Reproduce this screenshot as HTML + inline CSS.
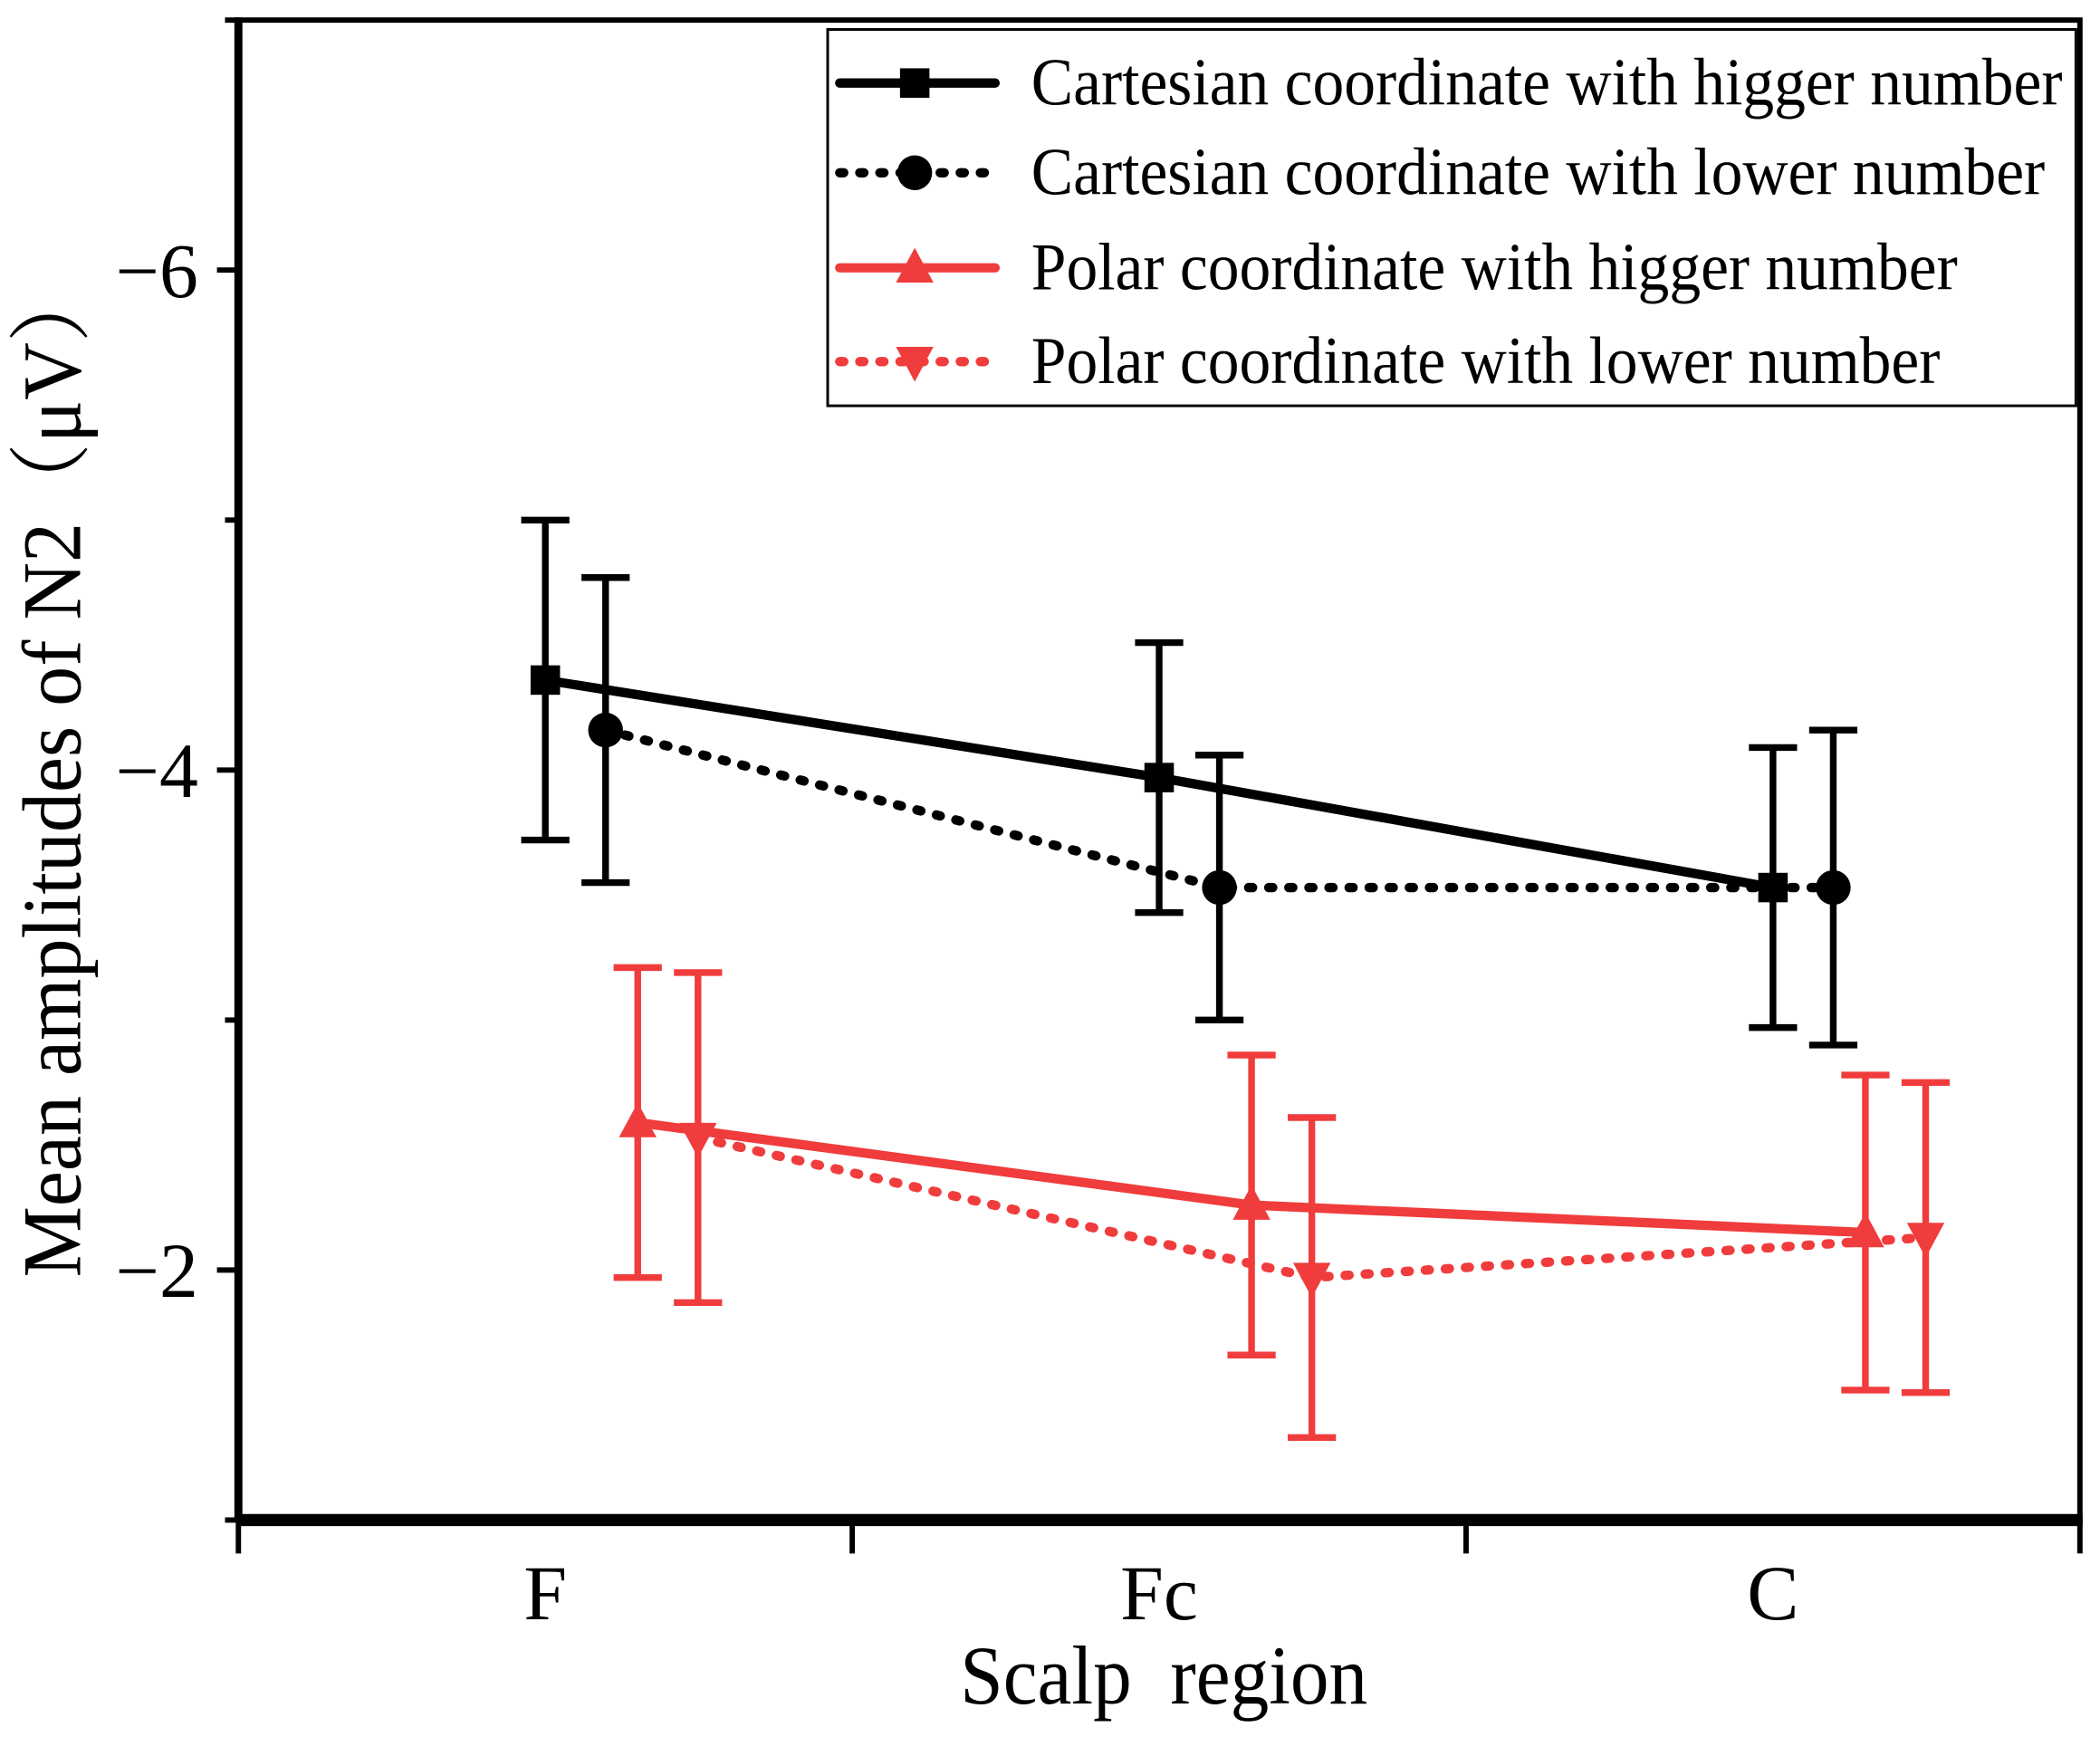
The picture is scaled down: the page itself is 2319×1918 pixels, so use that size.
<!DOCTYPE html>
<html><head><meta charset="utf-8"><style>
html,body{margin:0;padding:0;background:#fff;}
svg{display:block;}
text{font-family:"Liberation Serif","Noto Serif CJK SC",serif;fill:#000;}
</style></head><body>
<svg id="chart" width="2319" height="1918" viewBox="0 0 1568 1297" preserveAspectRatio="none" xmlns="http://www.w3.org/2000/svg">
<g id="axes"></g>
<g id="series"></g>
<g id="legend">
 <rect x="618" y="22" width="932" height="281" fill="#fff" stroke="#000" stroke-width="2"/>
</g>
<text transform="translate(60,575) rotate(-90) scale(0.96,1)" text-anchor="middle" font-size="62">Mean amplitudes of N2（μV）</text>
<text transform="translate(869,1272) scale(0.93,1)" text-anchor="middle" font-size="62" xml:space="preserve">Scalp  region</text>
</svg>
<script>
const categories = ["F","Fc","C"];
const seriesNames = ["Cartesian coordinate with higger number","Cartesian coordinate with lower number","Polar coordinate with higger number","Polar coordinate with lower number"];
const cartHighMean = [-4.36,-3.97,-3.53];
const cartHighErr = [0.64,0.54,0.56];
const cartLowMean = [-4.16,-3.53,-3.53];
const cartLowErr = [0.61,0.53,0.63];
const polarHighMean = [-2.59,-2.26,-2.15];
const polarHighErr = [0.62,0.60,0.63];
const polarLowMean = [-2.53,-1.97,-2.13];
const polarLowErr = [0.66,0.64,0.62];
const yTicks = [-6,-4,-2];
const yTickLabels = ["\u22126","\u22124","\u22122"];
const yMinorTicks = [-7,-5,-3,-1];

const NS="http://www.w3.org/2000/svg";
const L=178,R=1553,T=15,B=1135;
function xs(i){return L+(i+0.5)*(R-L)/3;}
function ys(v){return T+(v-(-7))/((-1)-(-7))*(B-T);}
function mk(tag,attrs,parent){const e=document.createElementNS(NS,tag);for(const k in attrs)e.setAttribute(k,attrs[k]);parent.appendChild(e);return e;}
const axes=document.getElementById('axes');
let e;
e=mk('rect',{x:L,y:T,width:R-L,height:B-T,fill:'none',stroke:'#000','stroke-width':4},axes);


e=mk('line',{x1:L,y1:B,x2:R+2,y2:B,stroke:'#000','stroke-width':9},axes);


e=mk('line',{x1:L,y1:T-2,x2:L,y2:B,stroke:'#000','stroke-width':6},axes);


yTicks.forEach((v,i)=>{
 const t=mk('line',{x1:L-16,y1:ys(v),x2:L,y2:ys(v),stroke:'#000','stroke-width':4},axes);
 
 
 const tx=mk('text',{x:148,y:ys(v)+20,'text-anchor':'end','font-size':58},axes);
 tx.textContent=yTickLabels[i];
 
 
});
yMinorTicks.forEach(v=>{
 const t=mk('line',{x1:L-10,y1:ys(v),x2:L,y2:ys(v),stroke:'#000','stroke-width':4},axes);
 
 
});
for(let k=0;k<=3;k++){
 const x=L+k*(R-L)/3;
 const t=mk('line',{x1:x,y1:B,x2:x,y2:B+25,stroke:'#000','stroke-width':4},axes);
 
 
}
categories.forEach((c,i)=>{
 const tx=mk('text',{x:xs(i),y:1209,'text-anchor':'middle','font-size':58},axes);
 tx.textContent=c;
 
 
});

const seriesDefs=[
 {means:cartHighMean,errs:cartHighErr,off:0,color:'#000',dash:null,marker:'square'},
 {means:cartLowMean,errs:cartLowErr,off:45,color:'#000',dash:'3 12',marker:'circle'},
 {means:polarHighMean,errs:polarHighErr,off:69,color:'#f03c3c',dash:null,marker:'up'},
 {means:polarLowMean,errs:polarLowErr,off:114,color:'#f03c3c',dash:'3 12',marker:'down'}
];
function marker(type,x,y,color,parent){
 let m;
 if(type==='square')m=mk('rect',{x:x-11,y:y-11,width:22,height:22,fill:color},parent);
 else if(type==='circle')m=mk('circle',{cx:x,cy:y,r:13,fill:color},parent);
 else if(type==='up')m=mk('polygon',{points:`${x},${y-15} ${x-14},${y+11} ${x+14},${y+11}`,fill:color},parent);
 else m=mk('polygon',{points:`${x},${y+15} ${x-14},${y-11} ${x+14},${y-11}`,fill:color},parent);
 return m;
}
const sg=document.getElementById('series');
seriesDefs.forEach((s,si)=>{
 const g=mk('g',{},sg);
 
 
 const pts=s.means.map((v,i)=>[xs(i)+s.off,ys(v)]);
 const pl=mk('polyline',{points:pts.map(p=>p.join(',')).join(' '),fill:'none',stroke:s.color,'stroke-width':7,'stroke-linecap':'round'},g);
 if(s.dash)pl.setAttribute('stroke-dasharray','3 12');
 
 
 s.means.forEach((v,i)=>{
  const x=xs(i)+s.off;
  const y1=ys(v-s.errs[i]),y2=ys(v+s.errs[i]);
  const eb=mk('path',{d:`M${x},${y1}V${y2}M${x-18},${y1}H${x+18}M${x-18},${y2}H${x+18}`,stroke:s.color,'stroke-width':5,fill:'none'},g);
  
  
  const m=marker(s.marker,x,ys(v),s.color,g);
  
  
 });
});
const lg=document.getElementById('legend');
const legY=[62,129,200,270];
seriesDefs.forEach((s,i)=>{
 const ent=mk('g',{},lg);
 
 
 const ln=mk('line',{x1:627,y1:legY[i],x2:743,y2:legY[i],stroke:s.color,'stroke-width':7,'stroke-linecap':'round'},ent);
 if(s.dash)ln.setAttribute('stroke-dasharray','3 12');
 marker(s.marker,683,legY[i],s.color,ent);
 const tx=mk('text',{transform:`translate(770,${legY[i]+16}) scale(0.94,1)`,'font-size':50},ent);
 tx.textContent=seriesNames[i];
});
</script>
</body></html>
